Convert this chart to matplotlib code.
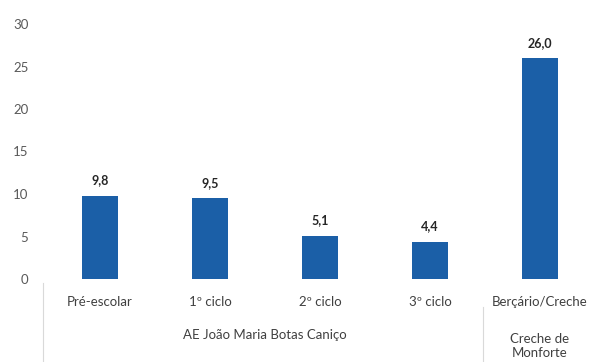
import matplotlib
matplotlib.use("Agg")
import matplotlib.pyplot as plt

plt.rcParams['font.family'] = ['Lato', 'DejaVu Sans']

# nível de ensino e valores (%)
categorias = ['Pré-escolar', '1º ciclo', '2º ciclo', '3º ciclo', 'Berçário/Creche']
valores = [9.8, 9.5, 5.1, 4.4, 26.0]
rotulos = ['9,8', '9,5', '5,1', '4,4', '26,0']
grupos = ['AE João Maria Botas Caniço', 'Creche de\nMonforte']
yticks = [0, 5, 10, 15, 20, 25, 30]

azul = '#1b5fa7'
cinza = '#595959'

W, H = 591, 362
fig = plt.figure(figsize=(W / 100, H / 100), dpi=100)
ax = fig.add_axes([45 / W, 1 - 279 / H, 1 - 45 / W, (279 - 24) / H])

x = range(len(categorias))
ax.bar(x, valores, width=0.32, color=azul, zorder=2)
for xi, v, r in zip(x, valores, rotulos):
    ax.text(xi, v + 1.1, r, ha='center', va='bottom', fontsize=9,
            fontweight='bold', color='#262626')

ax.set_ylim(0, 30)
ax.set_xlim(-0.5, 4.5 - 4 / 110)
ax.set_yticks(yticks)
ax.set_yticklabels([str(t) for t in yticks], color=cinza, fontsize=9.5)
ax.set_xticks([])
ax.tick_params(axis='y', length=0, pad=12)
for s in ax.spines.values():
    s.set_visible(False)

# rótulos de categoria e de grupo (eixo em dois níveis)
hh = 255
trans = ax.get_xaxis_transform()
for xi, c in zip(x, categorias):
    ax.text(xi, -23 / hh, c, transform=trans, ha='center', va='center',
            fontsize=9.5, color='#404040', clip_on=False)
ax.text(1.5, -56 / hh, grupos[0], transform=trans, ha='center', va='center',
        fontsize=9.5, color='#404040', clip_on=False)
ax.text(4, -67 / hh, grupos[1], transform=trans, ha='center', va='center',
        fontsize=9.5, color='#404040', linespacing=1.2, clip_on=False)

# separadores entre grupos
for xs, y0 in [(-0.52, -4 / hh), (3.48, -28 / hh)]:
    ax.plot([xs, xs], [y0, -85 / hh], transform=trans, color='#d9d9d9',
            lw=0.8, clip_on=False)

fig.savefig('out.png', dpi=100)
